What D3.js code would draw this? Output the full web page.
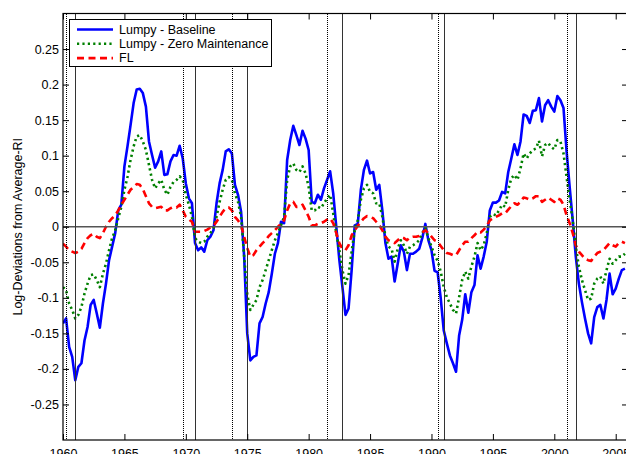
<!DOCTYPE html>
<html>
  <head>
    <meta charset="utf-8">
    <style>
      body { margin: 0; background: #fff; }
      text { font-family: "Liberation Sans", Arial, sans-serif; font-size: 12.5px; fill: #000; }
      .series { fill: none; stroke-linejoin: round; }
      .peak, .trough { shape-rendering: crispEdges; }
    </style>
  </head>
  <body>
    <svg width="626" height="454"></svg>
    <script src="https://d3js.org/d3.v7.min.js"></script>
    <script>
      // quarterly observations, starting 1960Q1
      var startYear = 1960;

      var baseline = [
        -0.136, -0.129, -0.169, -0.183,  -0.216, -0.197, -0.192, -0.160,
        -0.141, -0.110, -0.103, -0.122,  -0.142, -0.108, -0.080, -0.047,
        -0.028, -0.009,  0.023,  0.031,   0.085,  0.113,  0.143,  0.174,
         0.193,  0.194,  0.188,  0.169,   0.120,  0.101,  0.083,  0.092,
         0.106,  0.073,  0.074,  0.092,   0.101,  0.100,  0.114,  0.096,
         0.061,  0.040,  0.033, -0.023,  -0.033, -0.029, -0.035, -0.019,
        -0.014, -0.005,  0.033,  0.061,   0.080,  0.106,  0.109,  0.103,
         0.059,  0.045,  0.021, -0.042,  -0.150, -0.188, -0.183, -0.181,
        -0.136, -0.127, -0.108, -0.092,  -0.066, -0.038, -0.023,  0.007,
         0.005,  0.094,  0.122,  0.142,   0.129,  0.115,  0.135,  0.124,
         0.108,  0.035,  0.033,  0.045,   0.038,  0.054,  0.066,  0.078,
         0.047,  0.000, -0.047, -0.085,  -0.124, -0.115, -0.061,  0.002,
         0.004,  0.052,  0.080,  0.093,   0.075,  0.077,  0.052,  0.059,
         0.023, -0.023, -0.045, -0.042,  -0.077, -0.052, -0.026, -0.035,
        -0.061, -0.038, -0.038, -0.035,  -0.031, -0.016,  0.004, -0.019,
        -0.033, -0.062, -0.064, -0.100,  -0.146, -0.164, -0.181, -0.192,
        -0.204, -0.153, -0.131, -0.095,  -0.121, -0.092, -0.082, -0.040,
        -0.059, -0.042, -0.021,  0.023,   0.034,  0.034,  0.037,  0.049,
         0.047,  0.077,  0.096,  0.116,   0.101,  0.120,  0.158,  0.156,
         0.146,  0.163,  0.164,  0.181,   0.148,  0.171,  0.178,  0.169,
         0.162,  0.184,  0.178,  0.167,   0.106,  0.056,  0.009, -0.042,
        -0.080, -0.106, -0.129, -0.150,  -0.164, -0.127, -0.113, -0.110,
        -0.129, -0.103, -0.066, -0.095,  -0.087, -0.073, -0.061, -0.059
      ];

      var zeroMaint = [
        -0.085, -0.089, -0.108, -0.117,  -0.129, -0.124, -0.113, -0.094,
        -0.080, -0.068, -0.067, -0.075,  -0.085, -0.066, -0.052, -0.033,
        -0.016, -0.005,  0.012,  0.028,   0.052,  0.070,  0.094,  0.113,
         0.127,  0.129,  0.120,  0.108,   0.087,  0.066,  0.054,  0.061,
         0.066,  0.052,  0.045,  0.056,   0.063,  0.066,  0.071,  0.066,
         0.045,  0.031,  0.014, -0.016,  -0.021, -0.023, -0.021, -0.014,
        -0.009, -0.002,  0.014,  0.035,   0.052,  0.066,  0.070,  0.066,
         0.047,  0.035,  0.014, -0.042,  -0.095, -0.117, -0.110, -0.103,
        -0.085, -0.075, -0.061, -0.047,  -0.033, -0.019, -0.009,  0.002,
         0.014,  0.066,  0.085,  0.089,   0.080,  0.077,  0.085,  0.075,
         0.056,  0.023,  0.023,  0.028,   0.026,  0.033,  0.040,  0.045,
         0.019, -0.009, -0.033, -0.061,  -0.080, -0.068, -0.035, -0.005,
         0.009,  0.038,  0.054,  0.059,   0.049,  0.047,  0.033,  0.033,
         0.014, -0.014, -0.028, -0.031,  -0.049, -0.031, -0.019, -0.026,
        -0.038, -0.028, -0.026, -0.023,  -0.019, -0.009, -0.002, -0.016,
        -0.028, -0.040, -0.048, -0.063,  -0.085, -0.099, -0.108, -0.117,
        -0.122, -0.099, -0.075, -0.063,  -0.073, -0.056, -0.042, -0.023,
        -0.033, -0.026, -0.009,  0.014,   0.018,  0.016,  0.023,  0.031,
         0.028,  0.052,  0.068,  0.073,   0.066,  0.082,  0.103,  0.096,
         0.103,  0.108,  0.110,  0.121,   0.099,  0.115,  0.118,  0.112,
         0.109,  0.122,  0.120,  0.103,   0.070,  0.038,  0.009, -0.028,
        -0.056, -0.075, -0.089, -0.103,  -0.101, -0.080, -0.073, -0.070,
        -0.080, -0.061, -0.045, -0.052,  -0.047, -0.042, -0.042, -0.038
      ];

      var fl = [
        -0.024, -0.028, -0.033, -0.035,  -0.037, -0.035, -0.031, -0.023,
        -0.016, -0.012, -0.010, -0.014,  -0.016, -0.009,  0.000,  0.007,
         0.012,  0.016,  0.023,  0.031,   0.038,  0.045,  0.052,  0.056,
         0.060,  0.059,  0.053,  0.043,   0.033,  0.028,  0.026,  0.027,
         0.028,  0.023,  0.023,  0.026,   0.028,  0.027,  0.031,  0.023,
         0.014,  0.010,  0.007, -0.007,  -0.007, -0.007, -0.006, -0.004,
        -0.001,  0.001,  0.007,  0.014,   0.021,  0.026,  0.027,  0.023,
         0.014,  0.009,  0.002, -0.014,  -0.030, -0.042, -0.040, -0.033,
        -0.028, -0.023, -0.019, -0.013,  -0.009, -0.005,  0.000,  0.004,
         0.009,  0.023,  0.033,  0.035,   0.028,  0.028,  0.031,  0.023,
         0.014,  0.002,  0.002,  0.004,   0.005,  0.007,  0.010,  0.012,
         0.005, -0.009, -0.023, -0.031,  -0.033, -0.026, -0.012, -0.005,
         0.001,  0.007,  0.012,  0.015,   0.014,  0.012,  0.007,  0.002,
        -0.005, -0.014, -0.019, -0.021,  -0.023, -0.019, -0.015, -0.016,
        -0.019, -0.015, -0.014, -0.014,  -0.013, -0.008, -0.005, -0.009,
        -0.014, -0.019, -0.021, -0.027,  -0.033, -0.037, -0.038, -0.040,
        -0.040, -0.033, -0.026, -0.021,  -0.021, -0.016, -0.012, -0.007,
        -0.008, -0.004,  0.001,  0.009,   0.012,  0.014,  0.016,  0.019,
         0.019,  0.024,  0.029,  0.033,   0.031,  0.035,  0.041,  0.040,
         0.038,  0.040,  0.043,  0.043,   0.035,  0.038,  0.041,  0.038,
         0.035,  0.040,  0.038,  0.031,   0.016,  0.005, -0.009, -0.026,
        -0.035, -0.040, -0.045, -0.047,  -0.048, -0.042, -0.037, -0.035,
        -0.033, -0.028, -0.023, -0.026,  -0.028, -0.023, -0.021, -0.023
      ];

      // recession dates (peaks dotted, troughs solid)
      var peaks = [1960.25, 1969.75, 1973.75, 1981.5, 1990.5, 2001.0];
      var troughs = [1961.0, 1970.75, 1975.0, 1982.75, 1991.0, 2001.75];

      var xTicks = [1960, 1965, 1970, 1975, 1980, 1985, 1990, 1995, 2000, 2005];
      var yTicks = [-0.25, -0.2, -0.15, -0.1, -0.05, 0, 0.05, 0.1, 0.15, 0.2, 0.25];

      var seriesNames = ["Lumpy - Baseline", "Lumpy - Zero Maintenance", "FL"];

      var svg = d3.select("svg");
      var pLeft = 63, pRight = 628, pTop = 13.5, pBottom = 440;

      var x = d3.scaleLinear().domain([1960, 2006]).range([pLeft, pRight]);
      var y = d3.scaleLinear().domain([-0.3, 0.3]).range([pBottom, pTop]);

      svg.append("defs").append("clipPath").attr("id", "clip")
        .append("rect")
        .attr("x", pLeft).attr("y", pTop)
        .attr("width", pRight - pLeft).attr("height", pBottom - pTop);

      var styles = [
        { color: "#0000ff", dash: null },
        { color: "#008000", dash: "2.2,3.2" },
        { color: "#ff0000", dash: "7,4.5" }
      ];

      var series = [baseline, zeroMaint, fl].map(function(vals, i) {
        return {
          name: seriesNames[i],
          style: styles[i],
          points: vals.map(function(v, j) { return { t: startYear + j / 4, v: v }; })
        };
      });

      var line = d3.line()
        .x(function(d) { return x(d.t); })
        .y(function(d) { return y(d.v); });

      var plot = svg.append("g").attr("clip-path", "url(#clip)");

      plot.selectAll("path.series")
        .data(series)
        .enter().append("path")
        .attr("class", "series")
        .attr("d", function(d) { return line(d.points); })
        .attr("stroke", function(d) { return d.style.color; })
        .attr("stroke-width", 2.6)
        .attr("stroke-dasharray", function(d) { return d.style.dash; });

      // zero line
      plot.append("line")
        .attr("x1", pLeft).attr("x2", pRight)
        .attr("y1", y(0)).attr("y2", y(0))
        .attr("stroke", "#555").attr("stroke-width", 1.4);

      function px(d) { return Math.round(x(d)) + 0.5; }

      plot.selectAll("line.peak")
        .data(peaks)
        .enter().append("line")
        .attr("class", "peak")
        .attr("x1", px)
        .attr("x2", px)
        .attr("y1", pTop).attr("y2", pBottom)
        .attr("stroke", "#000").attr("stroke-width", 1)
        .attr("stroke-dasharray", "1,1");

      plot.selectAll("line.trough")
        .data(troughs)
        .enter().append("line")
        .attr("class", "trough")
        .attr("x1", px)
        .attr("x2", px)
        .attr("y1", pTop).attr("y2", pBottom)
        .attr("stroke", "#333").attr("stroke-width", 1);

      // axes, ticks pointing inward on all four sides
      var fmt = function(d) { return d === 0 ? "0" : d3.format(".2~f")(d).replace("\u2212", "-"); };

      svg.append("g")
        .attr("transform", "translate(0," + pBottom + ")")
        .call(d3.axisBottom(x).tickValues(xTicks).tickSizeInner(-6).tickSizeOuter(0).tickPadding(6).tickFormat(d3.format("d")))
        .call(function(g) {
          g.select(".domain").remove();
          g.selectAll("text").attr("font-size", null).attr("font-family", null).attr("dy", "0.95em");
        });

      svg.append("g")
        .attr("transform", "translate(0," + pTop + ")")
        .call(d3.axisTop(x).tickValues(xTicks).tickSizeInner(-6).tickSizeOuter(0).tickFormat(""))
        .call(function(g) { g.select(".domain").remove(); });

      svg.append("g")
        .attr("transform", "translate(" + pLeft + ",0)")
        .call(d3.axisLeft(y).tickValues(yTicks).tickSizeInner(-6).tickSizeOuter(0).tickPadding(4).tickFormat(fmt))
        .call(function(g) {
          g.select(".domain").remove();
          g.selectAll("text").attr("font-size", null).attr("font-family", null);
        });

      svg.append("g")
        .attr("transform", "translate(" + pRight + ",0)")
        .call(d3.axisRight(y).tickValues(yTicks).tickSizeInner(-6).tickSizeOuter(0).tickFormat(""))
        .call(function(g) { g.select(".domain").remove(); });

      svg.selectAll(".tick line").attr("stroke", "#000");

      svg.append("rect")
        .attr("x", pLeft).attr("y", pTop)
        .attr("width", pRight - pLeft).attr("height", pBottom - pTop)
        .attr("fill", "none").attr("stroke", "#000").attr("stroke-width", 1.2);

      svg.append("text")
        .attr("transform", "translate(22," + ((pTop + pBottom) / 2) + ") rotate(-90)")
        .attr("text-anchor", "middle")
        .text("Log-Deviations from Average-RI");

      // legend
      var legend = svg.append("g");
      legend.append("rect")
        .attr("x", 69.5).attr("y", 19.5)
        .attr("width", 202).attr("height", 47)
        .attr("fill", "#fff").attr("stroke", "#000").attr("stroke-width", 1);

      var item = legend.selectAll("g.item")
        .data(series)
        .enter().append("g")
        .attr("class", "item")
        .attr("transform", function(d, i) { return "translate(0," + (29.5 + i * 14.3) + ")"; });

      item.append("line")
        .attr("x1", 77).attr("x2", 113)
        .attr("stroke", function(d) { return d.style.color; })
        .attr("stroke-width", 2.6)
        .attr("stroke-dasharray", function(d) { return d.style.dash; });

      item.append("text")
        .attr("x", 119).attr("dy", "0.35em")
        .text(function(d) { return d.name; });
    </script>
  </body>
</html>
